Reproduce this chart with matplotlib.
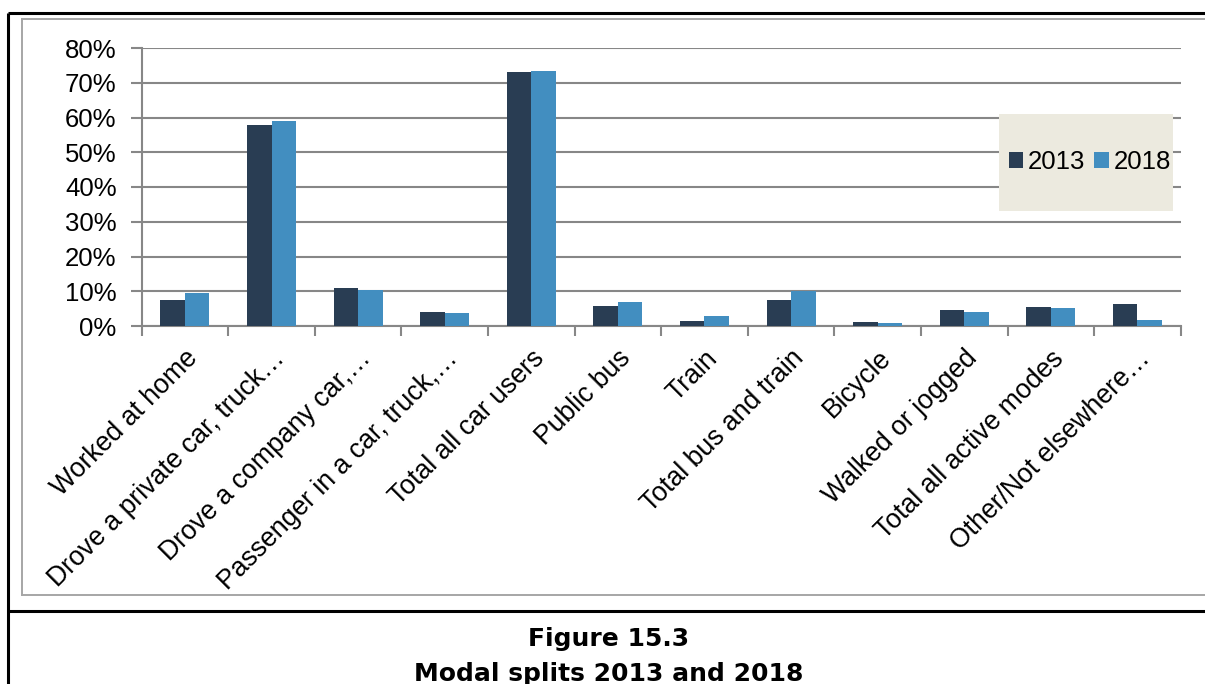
import matplotlib
matplotlib.use("Agg")
import matplotlib.pyplot as plt
from matplotlib.lines import Line2D
from matplotlib.patches import Rectangle
from matplotlib.ticker import PercentFormatter, FixedLocator
import numpy as np

categories = [
    "Worked at home",
    "Drove a private car, truck…",
    "Drove a company car,…",
    "Passenger in a car, truck,…",
    "Total all car users",
    "Public bus",
    "Train",
    "Total bus and train",
    "Bicycle",
    "Walked or jogged",
    "Total all active modes",
    "Other/Not elsewhere…",
]
share_2013 = [7.5, 57.8, 11.0, 4.1, 73.2, 5.8, 1.5, 7.5, 1.1, 4.5, 5.6, 6.4]
share_2018 = [9.6, 59.1, 10.4, 3.8, 73.4, 7.0, 3.0, 10.1, 0.9, 4.0, 5.1, 1.7]
series_labels = ["2013", "2018"]

plt.rcParams['font.family'] = ['Liberation Sans', 'DejaVu Sans']

W, H = 1205, 684
fig = plt.figure(figsize=(W / 100, H / 100), dpi=100)

# frame lines (page layout around the chart)
def fx(px):
    return px / W

def fy(py):
    return 1 - py / H

black = dict(color="black", lw=2.2, transform=fig.transFigure, solid_capstyle="butt")
fig.add_artist(Line2D([fx(8), fx(8)], [fy(13), fy(H)], **black))
fig.add_artist(Line2D([fx(8), 1], [fy(13), fy(13)], **black))
fig.add_artist(Line2D([fx(8), 1], [fy(611), fy(611)], **black))

gray = dict(color="#a6a6a6", lw=1.4, transform=fig.transFigure)
fig.add_artist(Line2D([fx(22), 1], [fy(19), fy(19)], **gray))
fig.add_artist(Line2D([fx(22), fx(22)], [fy(19), fy(595)], **gray))
fig.add_artist(Line2D([fx(22), 1], [fy(595), fy(595)], **gray))

ax = fig.add_axes([fx(141.7), fy(326), (1180.7 - 141.7) / W, (326 - 48) / H])

x = np.arange(len(categories))
bw = 0.283
ax.bar(x - bw / 2, share_2013, bw, color="#293d53", label=series_labels[0], zorder=3)
ax.bar(x + bw / 2, share_2018, bw, color="#428ec0", label=series_labels[1], zorder=3)

ax.set_xlim(-0.5, len(categories) - 0.5)
ax.set_ylim(0, 80)
ax.set_yticks(np.arange(0, 81, 10))
ax.yaxis.set_major_formatter(PercentFormatter(decimals=0))
ax.grid(axis="y", color="#878787", lw=1.5, zorder=0)

for s in ["top", "right"]:
    ax.spines[s].set_visible(False)
for s in ["left", "bottom"]:
    ax.spines[s].set_color("#878787")
    ax.spines[s].set_linewidth(1.5)

ax.set_xticks(x)
ax.set_xticklabels(categories, rotation=45, ha="right", rotation_mode="anchor")
ax.xaxis.set_minor_locator(FixedLocator(np.arange(-0.5, len(categories), 1)))
ax.tick_params(axis="x", which="major", length=0, pad=14, labelsize=19.2)
ax.tick_params(axis="x", which="minor", length=7, width=1.5, color="#878787")
ax.tick_params(axis="y", length=8, width=1.5, color="#878787", pad=10, labelsize=18.5)

# legend box
fig.add_artist(Rectangle((fx(999), fy(211)), (1173 - 999) / W, (211 - 114) / H,
                         transform=fig.transFigure, facecolor="#eceadf",
                         edgecolor="none", zorder=5))
leg = fig.legend(loc="center", bbox_to_anchor=(fx(1090), fy(162)), ncol=2,
                 frameon=False, fontsize=18.5, handlelength=0.55, handleheight=0.55,
                 handletextpad=0.2, columnspacing=0.35, borderpad=0)
leg.set_zorder(6)

fig.text(fx(609), fy(646), "Figure 15.3", ha="center", va="baseline",
         fontsize=18, fontweight="bold", family="DejaVu Sans")
fig.text(fx(609), fy(681), "Modal splits 2013 and 2018", ha="center", va="baseline",
         fontsize=18, fontweight="bold", family="DejaVu Sans")

fig.savefig("out.png", dpi=100)
